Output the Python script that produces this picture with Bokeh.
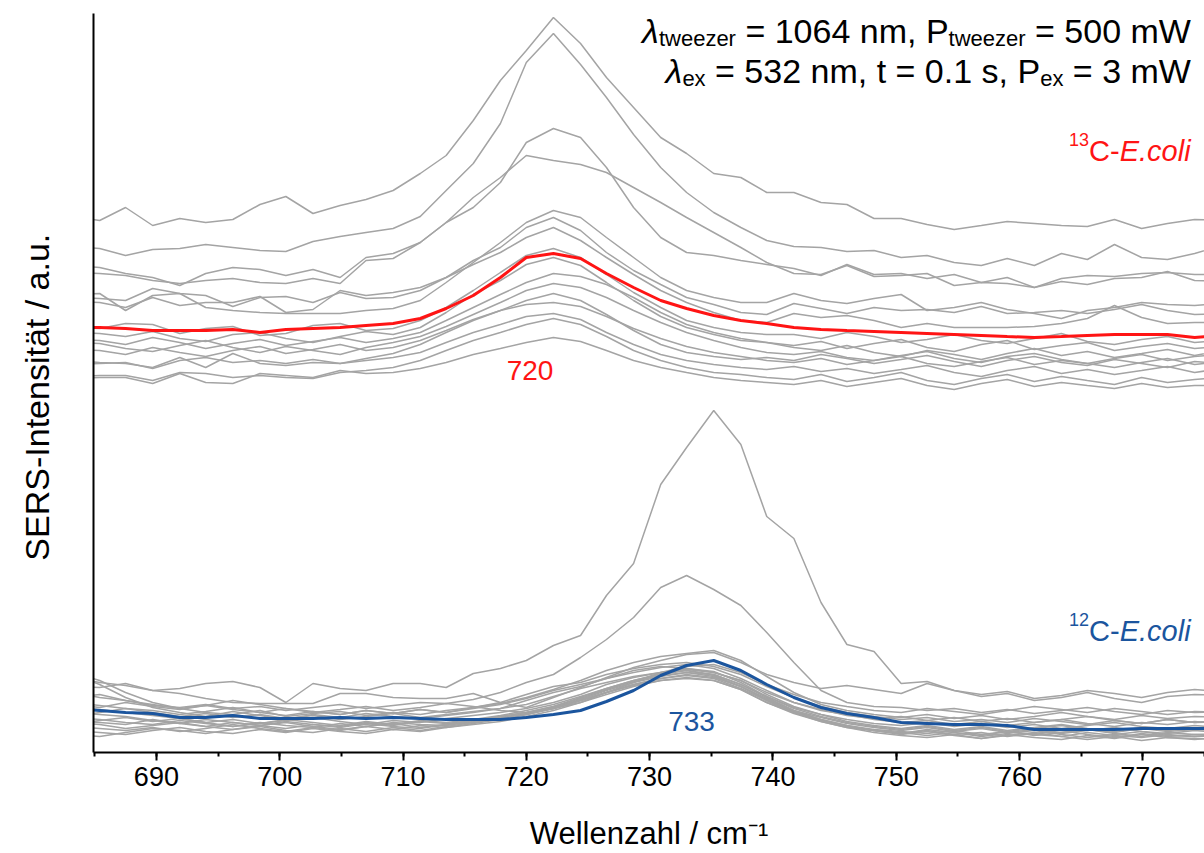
from bokeh.plotting import figure
from bokeh.models import Label, SingleIntervalTicker, FixedTicker
from bokeh.embed import file_html
from bokeh.resources import INLINE

# ---------------- data ----------------
wavenumber = [683.2, 685.4, 687.5, 689.7, 691.9, 694.0, 696.2, 698.4, 700.5, 702.7,
              704.9, 707.0, 709.2, 711.4, 713.5, 715.7, 717.9, 720.0, 722.2, 724.4,
              726.5, 728.7, 730.9, 733.0, 735.2, 737.4, 739.5, 741.7, 743.9, 746.0,
              748.2, 750.4, 752.5, 754.7, 756.9, 759.0, 761.2, 763.4, 765.5, 767.7,
              769.9, 772.0, 774.2, 776.4]

# 13C-E.coli single spectra (offset stack, a.u.)
c13_a = [536, 532, 545, 527, 534, 530, 533, 548, 556, 539, 547, 553, 562, 579, 597, 632, 672, 702, 735, 709, 675, 645, 615, 599, 579, 575, 560, 560, 550, 548, 534, 534, 528, 523, 527, 531, 529, 527, 526, 533, 524, 529, 533, 532]
c13_b = [506, 504, 497, 503, 504, 508, 505, 502, 501, 511, 516, 520, 524, 536, 562, 589, 629, 690, 719, 688, 655, 618, 585, 560, 540, 525, 512, 506, 505, 501, 502, 495, 497, 490, 487, 494, 487, 499, 493, 508, 495, 493, 499, 507]
c13_c = [487, 485, 479, 475, 467, 479, 485, 483, 477, 483, 475, 495, 499, 510, 530, 545, 570, 610, 624, 615, 585, 545, 515, 500, 497, 492, 488, 484, 477, 488, 478, 479, 474, 478, 470, 475, 465, 474, 477, 476, 479, 480, 478, 478]
c13_d = [480, 479, 477, 472, 469, 472, 474, 470, 469, 474, 469, 492, 494, 510, 530, 555, 575, 597, 592, 588, 580, 565, 550, 535, 520, 505, 490, 479, 478, 487, 476, 477, 479, 467, 470, 469, 465, 471, 468, 474, 475, 481, 472, 471]
c13_e = [458, 459, 442, 457, 459, 445, 442, 440, 439, 439, 439, 442, 444, 452, 470, 490, 510, 530, 542, 535, 515, 495, 475, 462, 455, 450, 450, 459, 452, 449, 454, 458, 442, 445, 450, 443, 439, 434, 442, 445, 450, 448, 447, 449]
c13_f = [455, 454, 452, 464, 459, 457, 446, 455, 456, 450, 460, 454, 455, 462, 475, 492, 505, 525, 535, 522, 500, 482, 468, 455, 448, 440, 438, 449, 444, 439, 445, 442, 443, 440, 446, 439, 440, 442, 439, 443, 448, 442, 438, 439]
c13_g = [451, 450, 445, 455, 447, 450, 450, 456, 440, 443, 462, 457, 460, 465, 475, 488, 500, 515, 525, 512, 495, 478, 462, 450, 440, 432, 430, 439, 435, 437, 432, 425, 429, 425, 425, 425, 426, 429, 434, 447, 435, 429, 430, 430]
c13_h = [425, 424, 429, 428, 419, 424, 426, 417, 419, 427, 429, 422, 424, 432, 445, 462, 480, 497, 504, 495, 478, 460, 445, 432, 425, 420, 418, 418, 414, 420, 416, 410, 413, 418, 412, 409, 414, 419, 411, 408, 413, 416, 410, 412]
c13_i = [420, 419, 416, 421, 414, 411, 418, 420, 414, 410, 416, 421, 418, 425, 440, 458, 472, 488, 495, 487, 470, 452, 436, 425, 418, 412, 410, 407, 411, 404, 409, 413, 405, 401, 408, 412, 403, 407, 410, 402, 406, 409, 404, 406]
c13_j = [413, 412, 408, 415, 410, 404, 409, 413, 407, 411, 415, 410, 414, 420, 432, 445, 458, 470, 479, 476, 468, 455, 440, 428, 420, 414, 410, 405, 402, 407, 400, 396, 402, 398, 393, 399, 404, 397, 401, 395, 399, 403, 397, 402]
c13_k = [410, 409, 404, 401, 407, 412, 405, 400, 406, 402, 398, 405, 410, 416, 426, 438, 450, 462, 469, 465, 455, 442, 430, 420, 412, 405, 400, 398, 401, 395, 392, 397, 401, 394, 390, 396, 399, 393, 389, 394, 398, 392, 396, 398]
c13_l = [392, 390, 389, 385, 395, 385, 399, 389, 387, 390, 389, 394, 399, 408, 420, 432, 442, 452, 459, 452, 438, 422, 408, 400, 396, 393, 395, 392, 398, 394, 389, 393, 397, 391, 386, 392, 396, 390, 387, 393, 389, 385, 391, 389]
c13_m = [388, 389, 390, 384, 392, 395, 390, 392, 389, 393, 389, 392, 395, 400, 410, 420, 428, 436, 439, 433, 420, 408, 398, 392, 388, 385, 383, 386, 381, 384, 379, 383, 387, 380, 376, 382, 386, 379, 383, 378, 382, 386, 380, 384]
c13_n = [376, 377, 377, 372, 380, 379, 375, 377, 375, 374, 380, 382, 385, 392, 402, 412, 420, 428, 434, 428, 416, 402, 392, 385, 380, 378, 375, 373, 378, 371, 375, 380, 372, 368, 374, 378, 371, 376, 372, 368, 375, 370, 373, 375]
c13_o = [374, 375, 375, 369, 379, 370, 369, 379, 377, 375, 382, 379, 380, 384, 390, 398, 404, 410, 415, 411, 402, 392, 385, 380, 375, 372, 370, 368, 372, 366, 370, 374, 367, 363, 369, 373, 366, 370, 367, 364, 369, 365, 367, 367]
c13_p = [403, 402, 398, 405, 400, 396, 402, 406, 399, 403, 408, 402, 405, 412, 422, 433, 442, 448, 450, 446, 436, 424, 414, 406, 400, 396, 392, 390, 394, 388, 392, 396, 389, 386, 391, 395, 388, 392, 389, 385, 390, 394, 388, 391]
c13_mean = [425, 425, 424, 422, 422, 422, 423, 420, 423, 424, 425, 427, 429, 434, 444, 457, 475, 495, 499, 494, 479, 465, 452, 444, 437, 432, 429, 425, 423, 422, 421, 420, 419, 418, 417, 416, 415, 416, 417, 418, 418, 418, 415, 417]

# 12C-E.coli single spectra
c12_a = [66, 65, 69, 62, 64, 69, 71, 65, 50, 69, 64, 62, 69, 69, 65, 79, 84, 92, 107, 117, 157, 189, 268, 305, 342, 308, 236, 214, 150, 108, 101, 69, 71, 62, 56, 59, 52, 55, 60, 54, 50, 56, 58, 57]
c12_b = [55, 58, 52, 47, 45, 48, 44, 46, 42, 45, 48, 44, 47, 50, 49, 53, 60, 70, 78, 95, 113, 135, 165, 177, 163, 147, 120, 90, 62, 50, 46, 45, 42, 44, 40, 43, 39, 42, 45, 41, 38, 42, 40, 41]
c12_c = [75, 70, 67, 62, 59, 54, 50, 49, 49, 49, 59, 59, 55, 54, 54, 59, 50, 45, 55, 65, 75, 85, 92, 98, 100, 90, 78, 70, 64, 67, 63, 59, 69, 62, 58, 61, 54, 57, 62, 59, 55, 60, 63, 61]
c12_d = [80, 72, 60, 50, 44, 40, 38, 42, 36, 39, 41, 37, 40, 38, 42, 45, 50, 58, 66, 70, 78, 84, 88, 90, 86, 78, 66, 55, 46, 40, 36, 33, 35, 31, 33, 30, 34, 31, 28, 32, 29, 33, 30, 31]
c12_e = [78, 68, 55, 45, 40, 36, 41, 37, 33, 38, 35, 39, 36, 34, 37, 40, 44, 52, 60, 66, 74, 80, 85, 88, 84, 74, 62, 50, 42, 38, 33, 30, 32, 28, 31, 27, 30, 33, 29, 26, 30, 28, 31, 29]
c12_f = [60, 55, 52, 48, 44, 47, 43, 40, 44, 41, 38, 42, 39, 43, 40, 44, 48, 54, 62, 68, 74, 82, 86, 84, 80, 72, 60, 50, 43, 37, 34, 36, 32, 35, 31, 34, 30, 33, 36, 32, 29, 33, 30, 32]
c12_g = [50, 47, 44, 40, 36, 39, 35, 38, 34, 37, 33, 36, 39, 35, 38, 41, 44, 48, 56, 64, 70, 76, 80, 82, 78, 68, 56, 45, 38, 33, 29, 27, 30, 26, 29, 25, 28, 24, 27, 30, 26, 24, 27, 25]
c12_h = [45, 43, 40, 37, 34, 30, 33, 29, 32, 35, 31, 28, 32, 30, 34, 37, 40, 44, 50, 58, 68, 75, 80, 83, 80, 72, 58, 46, 38, 31, 27, 24, 27, 23, 26, 22, 25, 28, 24, 21, 25, 22, 24, 23]
c12_i = [40, 38, 36, 32, 29, 33, 30, 27, 31, 28, 26, 30, 27, 31, 29, 32, 36, 40, 46, 54, 63, 71, 77, 80, 76, 66, 54, 42, 35, 29, 25, 22, 25, 21, 24, 20, 23, 19, 22, 25, 21, 19, 22, 20]
c12_j = [35, 33, 30, 28, 32, 29, 26, 30, 27, 25, 29, 26, 30, 28, 27, 31, 35, 39, 44, 52, 60, 68, 74, 78, 75, 66, 53, 41, 33, 27, 23, 21, 19, 22, 18, 21, 17, 20, 23, 19, 16, 20, 18, 19]
c12_k = [32, 30, 28, 33, 29, 26, 30, 27, 24, 28, 25, 29, 26, 24, 28, 30, 34, 38, 44, 50, 58, 66, 72, 75, 72, 63, 50, 39, 31, 25, 22, 19, 22, 18, 20, 16, 19, 22, 18, 15, 19, 16, 18, 17]
c12_l = [30, 28, 24, 27, 30, 26, 23, 27, 30, 26, 23, 26, 29, 25, 28, 32, 36, 40, 46, 55, 64, 72, 78, 82, 77, 66, 52, 40, 32, 26, 22, 20, 17, 20, 16, 19, 22, 18, 15, 18, 21, 17, 16, 18]
c12_m = [26, 24, 22, 25, 21, 24, 28, 24, 21, 25, 22, 26, 23, 27, 25, 29, 33, 38, 45, 53, 62, 70, 76, 80, 78, 68, 55, 42, 33, 27, 22, 18, 21, 17, 14, 18, 15, 13, 17, 14, 18, 15, 13, 15]
c12_n = [22, 20, 18, 22, 25, 21, 19, 23, 20, 24, 21, 19, 23, 21, 25, 28, 31, 36, 42, 50, 60, 68, 74, 77, 74, 64, 52, 40, 31, 25, 20, 17, 15, 18, 14, 17, 20, 16, 13, 16, 12, 15, 14, 13]
c12_o = [18, 16, 20, 24, 22, 19, 23, 26, 22, 20, 24, 21, 25, 22, 26, 30, 34, 38, 44, 52, 60, 67, 72, 74, 72, 63, 50, 40, 32, 26, 22, 19, 23, 20, 17, 21, 18, 16, 20, 17, 15, 18, 16, 17]
c12_p = [36, 40, 44, 42, 38, 41, 45, 40, 37, 41, 38, 42, 39, 43, 40, 45, 49, 55, 63, 72, 82, 90, 96, 99, 102, 92, 76, 60, 48, 42, 38, 35, 38, 34, 37, 33, 36, 40, 36, 33, 37, 34, 36, 35]
c12_q = [48, 45, 50, 46, 43, 47, 52, 48, 44, 40, 43, 46, 42, 45, 49, 46, 42, 40, 44, 52, 60, 70, 80, 86, 88, 80, 68, 58, 50, 46, 42, 40, 44, 41, 38, 42, 46, 43, 40, 44, 41, 38, 41, 40]
c12_r = [28, 32, 35, 31, 34, 30, 26, 29, 33, 30, 27, 31, 28, 32, 30, 33, 37, 42, 48, 56, 64, 72, 79, 84, 81, 70, 56, 44, 36, 30, 26, 23, 26, 22, 25, 21, 24, 27, 23, 20, 24, 21, 23, 22]
c12_mean = [44, 42, 40, 39, 35, 35, 37, 34, 34, 34, 35, 34, 35, 34, 33, 33, 33, 35, 38, 42, 51, 62, 77, 87, 92, 82, 68, 55, 45, 39, 35, 30, 29, 28, 28, 27, 23, 23, 23, 23, 24, 24, 24, 24]

x_ticks_major = 10
peak_13c = 720
peak_12c = 733

c13_single = [c13_a, c13_b, c13_c, c13_d, c13_e, c13_f, c13_g, c13_h, c13_i, c13_j,
              c13_k, c13_l, c13_m, c13_n, c13_o, c13_p]
c12_single = [c12_a, c12_b, c12_c, c12_d, c12_e, c12_f, c12_g, c12_h, c12_i, c12_j,
              c12_k, c12_l, c12_m, c12_n, c12_o, c12_p, c12_q, c12_r]

# ---------------- style ----------------
FONT = "Liberation Sans"
GRAY = "#a4a4a4"
RED = "#ff1414"
BLUE = "#1b559e"

X0, X1 = 684.9, 775.0
p = figure(width=1204, height=853, x_range=(X0, X1), y_range=(0, 739),
           output_backend="svg", toolbar_location=None,
           min_border_left=93, min_border_right=0, min_border_top=13, min_border_bottom=101)
p.xgrid.visible = False
p.ygrid.visible = False
p.outline_line_color = None
p.background_fill_color = "white"
p.border_fill_color = "white"

for s in c13_single + c12_single:
    p.line(wavenumber, s, line_color=GRAY, line_width=1.5)
p.line(wavenumber, c13_mean, line_color=RED, line_width=3)
p.line(wavenumber, c12_mean, line_color=BLUE, line_width=3)

xa = p.xaxis[0]
xa.ticker = SingleIntervalTicker(interval=x_ticks_major, num_minor_ticks=2)
xa.axis_line_width = 2
xa.axis_line_color = "black"
xa.major_tick_line_width = 2
xa.minor_tick_line_width = 2
xa.major_tick_line_color = "black"
xa.minor_tick_line_color = "black"
xa.major_tick_in = 0
xa.major_tick_out = 8
xa.minor_tick_in = 0
xa.minor_tick_out = 4
xa.major_label_standoff = 6
xa.major_label_text_font = FONT
xa.major_label_text_font_size = "27px"
xa.major_label_text_color = "black"
xa.axis_label = "Wellenzahl / cm\u207b\u00b9"
xa.axis_label_standoff = 27
xa.axis_label_text_font = FONT
xa.axis_label_text_font_size = "31px"
xa.axis_label_text_font_style = "normal"
xa.axis_label_text_color = "black"

ya = p.yaxis[0]
ya.ticker = FixedTicker(ticks=[])
ya.axis_line_width = 2
ya.axis_line_color = "black"
ya.major_tick_out = 0
ya.major_tick_in = 0
ya.minor_tick_out = 0
ya.minor_tick_in = 0
ya.major_label_standoff = 0
ya.axis_label = "SERS-Intensit\u00e4t / a.u.\u00a0\u00a0\u00a0"
ya.axis_label_standoff = 38
ya.axis_label_text_font = FONT
ya.axis_label_text_font_size = "34px"
ya.axis_label_text_font_style = "normal"
ya.axis_label_text_color = "black"

# ---------------- rich text helper (Arial / Liberation Sans advance widths) ----------------
W = {' ': 278, '=': 584, 'n': 556, 'm': 833, ',': 278, 'P': 667, 'W': 944, 't': 278,
     'w': 722, 'e': 556, 'z': 500, 'r': 333, 'x': 500, '.': 278, 's': 500, 'C': 722,
     '-': 333, 'E': 667, 'c': 500, 'o': 556, 'l': 222, 'i': 222, '\u03bb': 500}
for d in "0123456789":
    W[d] = 556


def tw(s, size):
    return sum(W.get(ch, 556) for ch in s) / 1000.0 * size


def rich(parts, x_right, y_base, color):
    total = sum(tw(t, sz) for t, sz, dy, st in parts)
    off = -total
    for t, sz, dy, st in parts:
        lead = len(t) - len(t.lstrip(' '))
        core = t.strip(' ')
        if core:
            p.add_layout(Label(x=x_right, y=y_base, x_offset=off + tw(' ' * lead, sz), y_offset=dy,
                               text=core, text_font=FONT, text_font_size=f"{sz}px",
                               text_font_style=st, text_color=color,
                               text_align="left", text_baseline="alphabetic"))
        off += tw(t, sz)


F1, S1 = 34, 22
rich([("\u03bb", F1, 0, "italic"), ("tweezer", S1, -8, "normal"),
      (" = 1064 nm, P", F1, 0, "normal"), ("tweezer", S1, -8, "normal"),
      (" = 500 mW", F1, 0, "normal")], 773.9, 722, "black")
rich([("\u03bb", F1, 0, "italic"), ("ex", S1, -8, "normal"),
      (" = 532 nm, t = 0.1 s, P", F1, 0, "normal"), ("ex", S1, -8, "normal"),
      (" = 3 mW", F1, 0, "normal")], 773.9, 682, "black")

F2, S2 = 29, 18
rich([("13", S2, 11, "normal"), ("C-", F2, 0, "normal"), ("E.coli", F2, 0, "italic")],
     773.87, 602, RED)
rich([("12", S2, 11, "normal"), ("C-", F2, 0, "normal"), ("E.coli", F2, 0, "italic")],
     773.87, 122, BLUE)

p.add_layout(Label(x=720.3, y=382, text=str(peak_13c), text_font=FONT, text_font_size="28px",
                   text_color=RED, text_align="center", text_baseline="alphabetic"))
p.add_layout(Label(x=733.4, y=31, text=str(peak_12c), text_font=FONT, text_font_size="28px",
                   text_color=BLUE, text_align="center", text_baseline="alphabetic"))

open("out.html", "w").write(file_html(p, INLINE))
